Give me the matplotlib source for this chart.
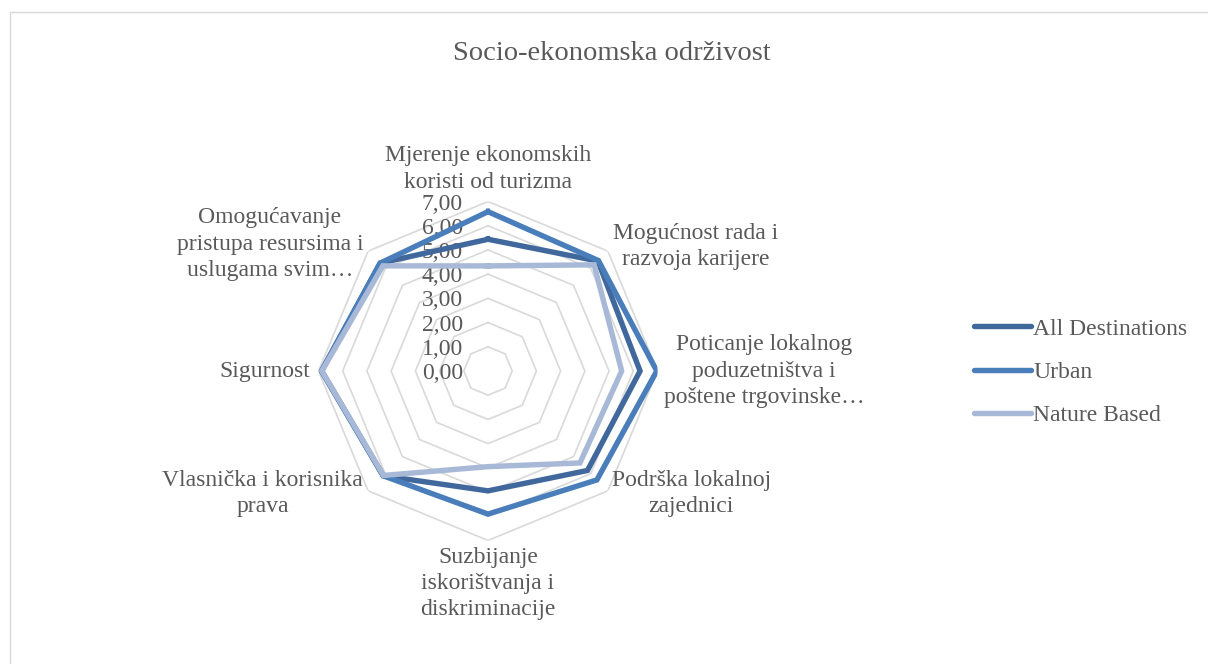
import numpy as np
import matplotlib
matplotlib.use("Agg")
import matplotlib.pyplot as plt
from matplotlib.lines import Line2D
from matplotlib.patches import Rectangle
from matplotlib.transforms import ScaledTranslation

plt.rcParams['font.family'] = ['Liberation Serif', 'DejaVu Serif']

title = "Socio-ekonomska održivost"
categories = [
    "Mjerenje ekonomskih\nkoristi od turizma",
    "Mogućnost rada i\nrazvoja karijere",
    "Poticanje lokalnog\npoduzetništva i\npoštene trgovinske…",
    "Podrška lokalnoj\nzajednici",
    "Suzbijanje\niskorištvanja i\ndiskriminacije",
    "Vlasnička i korisnika\nprava",
    "Sigurnost",
    "Omogućavanje\npristupa resursima i\nuslugama svim…",
]
series_names = ["All Destinations", "Urban", "Nature Based"]
all_dest = [5.44, 6.42, 6.28, 5.81, 4.95, 6.12, 6.87, 6.30]
urban = [6.58, 6.45, 6.97, 6.36, 5.91, 6.12, 6.88, 6.30]
nature = [4.34, 6.20, 5.52, 5.37, 3.95, 6.10, 6.86, 6.14]
tick_values = [0, 1, 2, 3, 4, 5, 6, 7]
tick_labels = ["0,00", "1,00", "2,00", "3,00", "4,00", "5,00", "6,00", "7,00"]

colors = ["#41689D", "#4A7EBB", "#A7B9D7"]
text_color = "#595959"
grid_color = "#D9D9D9"

W, H = 1208, 664
fig = plt.figure(figsize=(W / 100, H / 100), dpi=100)
fig.patch.set_facecolor("white")

# outer chart border
fig.add_artist(Rectangle((10 / W, -0.1), 1.2, (H - 12) / H + 0.1, transform=fig.transFigure,
                         fill=False, edgecolor=grid_color, linewidth=1.0))

cx, cy, R = 488, 371, 169.5
ax = fig.add_axes([(cx - R) / W, (H - cy - R) / H, 2 * R / W, 2 * R / H], projection='polar')
ax.set_theta_zero_location('N')
ax.set_theta_direction(-1)
ax.set_ylim(0, 7)
ax.grid(False)
ax.spines['polar'].set_visible(False)
ax.set_xticks([])
ax.set_yticks([])
ax.patch.set_alpha(0)

n = len(categories)
theta = np.arange(n) * 2 * np.pi / n
theta_c = np.append(theta, theta[0])

for v in tick_values[1:]:
    ax.plot(theta_c, [v] * (n + 1), color=grid_color, lw=1.2, zorder=1)

for name, vals, col in zip(series_names, [all_dest, urban, nature], colors):
    ax.plot(theta_c, list(vals) + [vals[0]], color=col, lw=3.9, zorder=3,
            solid_joinstyle='miter', label=name)

for v, lab in zip(tick_values, tick_labels):
    tr = ax.transData + ScaledTranslation(-25 / 100, -2.5 / 100, fig.dpi_scale_trans)
    ax.text(0, v, lab, transform=tr, ha='right', va='center', fontsize=17,
            color=text_color, zorder=2)

# label placement: (dx px, dy px, ha, va)
place = [
    (0, 9, 'center', 'bottom'),
    (5, 5, 'left', 'center'),
    (6, 0, 'left', 'center'),
    (4, -3, 'left', 'center'),
    (0, -6, 'center', 'top'),
    (-5, -3, 'right', 'center'),
    (-8, 0, 'right', 'center'),
    (-5, 7, 'right', 'center'),
]
for th, lab, (dx, dy, ha, va) in zip(theta, categories, place):
    ax.annotate(lab, xy=(th, 7), xytext=(dx * 0.72, dy * 0.72), textcoords='offset points',
                ha=ha, va=va, multialignment='center', fontsize=17, color=text_color,
                linespacing=1.33, annotation_clip=False)

fig.text(612 / W, 1 - 53 / H, title, ha='center', va='center', fontsize=20.5, color=text_color)

handles = [Line2D([0], [0], color=c, lw=3.9, solid_capstyle='round') for c in colors]
leg = fig.legend(handles, series_names, loc='center left', bbox_to_anchor=(974 / W, 1 - 372 / H),
                 frameon=False, fontsize=17, handlelength=2.4, handletextpad=0.1,
                 labelspacing=0.92, borderpad=0, borderaxespad=0)
for t in leg.get_texts():
    t.set_color(text_color)

fig.savefig("out.png", dpi=100)
